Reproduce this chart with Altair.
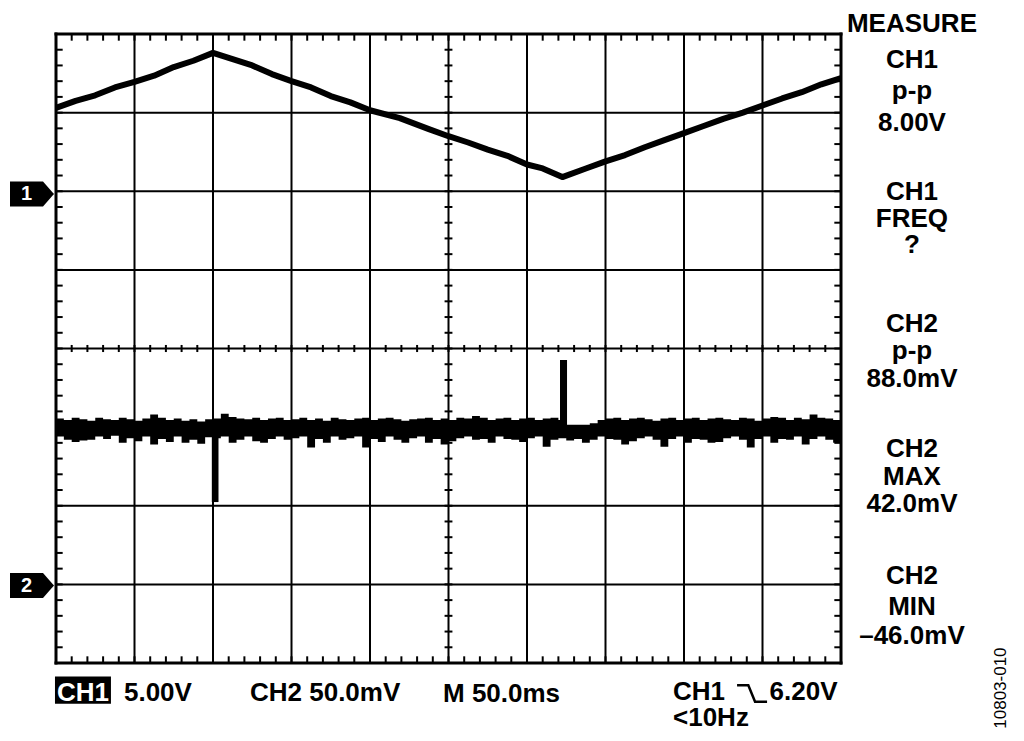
import altair as alt
import pandas as pd

# ---------------- data (in screen divisions) ----------------
ch1_x = [0, 0.25, 0.5, 0.75, 1, 1.25, 1.5, 1.75, 2, 2.25, 2.5, 2.75, 3, 3.25, 3.5, 3.75, 4,
         4.38, 4.75, 5, 5.25, 5.5, 5.75, 6, 6.2, 6.45, 6.75, 7, 7.25, 7.5, 7.75, 8, 8.25,
         8.5, 8.75, 9, 9.25, 9.5, 9.75, 10]
ch1_y = [3.06, 3.15, 3.22, 3.32, 3.39, 3.47, 3.58, 3.66, 3.76, 3.68, 3.60, 3.49, 3.40, 3.32,
         3.21, 3.13, 3.03, 2.93, 2.79, 2.70, 2.62, 2.53, 2.45, 2.34, 2.29, 2.18, 2.29, 2.38,
         2.46, 2.56, 2.65, 2.74, 2.83, 2.92, 3.00, 3.09, 3.18, 3.26, 3.36, 3.44]

ch2_x = [i / 10 for i in range(101)]
ch2_top = [-0.89, -0.91, -0.88, -0.90, -0.92, -0.88, -0.90, -0.91, -0.88, -0.90,
           -0.92, -0.89, -0.84, -0.88, -0.91, -0.89, -0.92, -0.90, -0.93, -0.90,
           -0.89, -0.83, -0.87, -0.89, -0.90, -0.88, -0.91, -0.89, -0.88, -0.91,
           -0.90, -0.88, -0.91, -0.89, -0.92, -0.88, -0.90, -0.91, -0.89, -0.88,
           -0.91, -0.89, -0.88, -0.90, -0.92, -0.90, -0.89, -0.88, -0.91, -0.89,
           -0.91, -0.88, -0.89, -0.86, -0.88, -0.91, -0.89, -0.88, -0.91, -0.89,
           -0.88, -0.91, -0.89, -0.88, -0.91, -0.97, -0.97, -0.97, -0.95, -0.91,
           -0.89, -0.88, -0.91, -0.89, -0.88, -0.90, -0.92, -0.89, -0.88, -0.91,
           -0.89, -0.88, -0.91, -0.89, -0.88, -0.90, -0.91, -0.88, -0.89, -0.92,
           -0.89, -0.87, -0.88, -0.91, -0.88, -0.90, -0.84, -0.88, -0.89, -0.91,
           -0.89]
ch2_bot = [-1.12, -1.16, -1.19, -1.17, -1.16, -1.12, -1.15, -1.11, -1.20, -1.14,
           -1.18, -1.12, -1.22, -1.15, -1.19, -1.12, -1.20, -1.16, -1.21, -1.13,
           -1.14, -1.12, -1.20, -1.16, -1.12, -1.18, -1.20, -1.15, -1.12, -1.16,
           -1.14, -1.12, -1.26, -1.15, -1.20, -1.12, -1.16, -1.14, -1.12, -1.26,
           -1.15, -1.19, -1.12, -1.16, -1.20, -1.14, -1.12, -1.20, -1.15, -1.22,
           -1.18, -1.14, -1.12, -1.16, -1.15, -1.20, -1.12, -1.15, -1.16, -1.19,
           -1.14, -1.12, -1.25, -1.16, -1.14, -1.17, -1.15, -1.20, -1.16, -1.12,
           -1.15, -1.16, -1.22, -1.18, -1.14, -1.12, -1.16, -1.25, -1.15, -1.12,
           -1.20, -1.15, -1.16, -1.20, -1.19, -1.14, -1.12, -1.16, -1.26, -1.15,
           -1.12, -1.20, -1.15, -1.16, -1.12, -1.22, -1.15, -1.12, -1.16, -1.20,
           -1.14]

spike_x = [1.985, 6.42]
spike_x2 = [2.07, 6.51]
spike_y = [-1.0, -1.0]
spike_y2 = [-1.953, -0.146]

meas_text = ["MEASURE", "CH1", "p-p", "8.00V", "CH1", "FREQ", "?",
             "CH2", "p-p", "88.0mV", "CH2", "MAX", "42.0mV", "CH2", "MIN", "\u201346.0mV"]
meas_y = [4.027, 3.569, 3.174, 2.767, 1.889, 1.546, 1.215,
          0.210, -0.134, -0.489, -1.380, -1.737, -2.080, -2.996, -3.391, -3.760]

bottom_text = ["5.00V", "CH2 50.0mV", "M 50.0ms", "CH1", "6.20V", "<10Hz"]
bottom_x = [0.866, 2.471, 4.93, 7.86, 9.09, 7.86]
bottom_y = [-4.485, -4.485, -4.497, -4.472, -4.472, -4.80]

marker_text = ["1", "2"]
marker_y = [1.966, -3.015]

# ---------------- scales ----------------
xs = alt.Scale(domain=[0, 10], nice=False, zero=False)
ys = alt.Scale(domain=[-4, 4], nice=False, zero=False)
X = lambda f: alt.X(f, type="quantitative", scale=xs, axis=None)
Y = lambda f: alt.Y(f, type="quantitative", scale=ys, axis=None)
FONT = "Liberation Sans"
FS = 26

# ---------------- graticule ----------------
grid_v = pd.DataFrame({"x": list(range(1, 10)), "y": [-4] * 9, "y2": [4] * 9})
grid_h = pd.DataFrame({"y": list(range(-3, 4)), "x": [0] * 7, "x2": [10] * 7})
frame = pd.DataFrame({"x": [0, 10, 0, 0], "x2": [0, 10, 10, 10],
                      "y": [-4, -4, -4, 4], "y2": [4, 4, -4, 4]})

tk = []
for i in range(51):
    xv = i / 5
    tk.append((xv, xv, 4, 3.915))
    tk.append((xv, xv, -4, -3.915))
    tk.append((xv, xv, -0.045, 0.045))
for j in range(41):
    yv = -4 + j / 5
    tk.append((0, 0.085, yv, yv))
    tk.append((10, 9.915, yv, yv))
    tk.append((4.95, 5.05, yv, yv))
ticks = pd.DataFrame(tk, columns=["x", "x2", "y", "y2"])

gv = alt.Chart(grid_v).mark_rule(color="black", strokeWidth=2).encode(
    x=X("x"), y=Y("y"), y2="y2")
gh = alt.Chart(grid_h).mark_rule(color="black", strokeWidth=2).encode(
    y=Y("y"), x=X("x"), x2="x2")
fr = alt.Chart(frame).mark_rule(color="black", strokeWidth=3, strokeCap="square").encode(
    x=X("x"), x2="x2", y=Y("y"), y2="y2")
tks = alt.Chart(ticks).mark_rule(color="black", strokeWidth=2).encode(
    x=X("x"), x2="x2", y=Y("y"), y2="y2")

# ---------------- traces ----------------
ch1 = alt.Chart(pd.DataFrame({"x": ch1_x, "y": ch1_y})).mark_line(
    color="black", strokeWidth=6, strokeJoin="round").encode(x=X("x"), y=Y("y"))

ch2 = alt.Chart(pd.DataFrame({"x": ch2_x, "top": ch2_top, "bot": ch2_bot})).mark_area(
    color="black", opacity=1, interpolate="step-after").encode(
    x=X("x"), y=Y("top"), y2="bot")

spikes = alt.Chart(pd.DataFrame({"x": spike_x, "x2": spike_x2, "y": spike_y, "y2": spike_y2})
                   ).mark_rect(color="black").encode(x=X("x"), x2="x2", y=Y("y"), y2="y2")

# ---------------- channel markers ----------------
arrow = "M-1,-0.57L0.5,-0.57L1,0L0.5,0.57L-1,0.57Z"
mk_df = pd.DataFrame({"t": marker_text, "y": marker_y, "x": [-0.306, -0.306], "tx": [-0.376, -0.376]})
markers = alt.Chart(mk_df).mark_point(shape=arrow, size=1936, filled=True, color="black",
                                      opacity=1, strokeWidth=0).encode(x=X("x"), y=Y("y"))
marker_lbl = alt.Chart(mk_df).mark_text(color="white", font=FONT, fontWeight="bold", fontSize=20,
                                        align="center", baseline="middle").encode(
    x=X("tx"), y=Y("y"), text="t:N")

# ---------------- texts ----------------
meas = alt.Chart(pd.DataFrame({"t": meas_text, "y": meas_y, "x": [10.904] * len(meas_y)})).mark_text(
    font=FONT, fontWeight="bold", fontSize=FS, align="center", baseline="alphabetic", color="black"
).encode(x=X("x"), y=Y("y"), text="t:N")

bot = alt.Chart(pd.DataFrame({"t": bottom_text, "x": bottom_x, "y": bottom_y})).mark_text(
    font=FONT, fontWeight="bold", fontSize=FS, align="left", baseline="alphabetic", color="black"
).encode(x=X("x"), y=Y("y"), text="t:N")

ch1_box = alt.Chart(pd.DataFrame({"x": [-0.013], "x2": [0.70], "y": [-4.173], "y2": [-4.517]})
                    ).mark_rect(color="black").encode(x=X("x"), x2="x2", y=Y("y"), y2="y2")
ch1_lbl = alt.Chart(pd.DataFrame({"t": ["CH1"], "x": [0.344], "y": [-4.485]})).mark_text(
    font=FONT, fontWeight="bold", fontSize=FS, align="center", baseline="alphabetic", color="white"
).encode(x=X("x"), y=Y("y"), text="t:N")

edge = alt.Chart(pd.DataFrame({"x": [8.867], "y": [-4.389]})).mark_point(
    shape="M-1,-0.55L-0.25,-0.55L0.2,0.55L1,0.55", size=900, filled=False, color="black",
    opacity=1, strokeWidth=2.5).encode(x=X("x"), y=Y("y"))

fig_id = alt.Chart(pd.DataFrame({"t": ["10803-010"], "x": [12.038], "y": [-4.319]})).mark_text(
    font=FONT, fontSize=17, angle=270, align="center", baseline="middle", color="black"
).encode(x=X("x"), y=Y("y"), text="t:N")

chart = alt.layer(
    gv, gh, tks, fr, ch1, ch2, spikes, markers, marker_lbl, meas, bot, ch1_box, ch1_lbl, edge, fig_id
).properties(
    width=785, height=629,
    autosize=alt.AutoSizeParams(type="none"),
    padding={"left": 48, "top": 26, "right": 170, "bottom": 70},
    background="white",
).configure_view(stroke=None)

chart.save("out.html", embed_options={"renderer": "svg", "actions": False})
